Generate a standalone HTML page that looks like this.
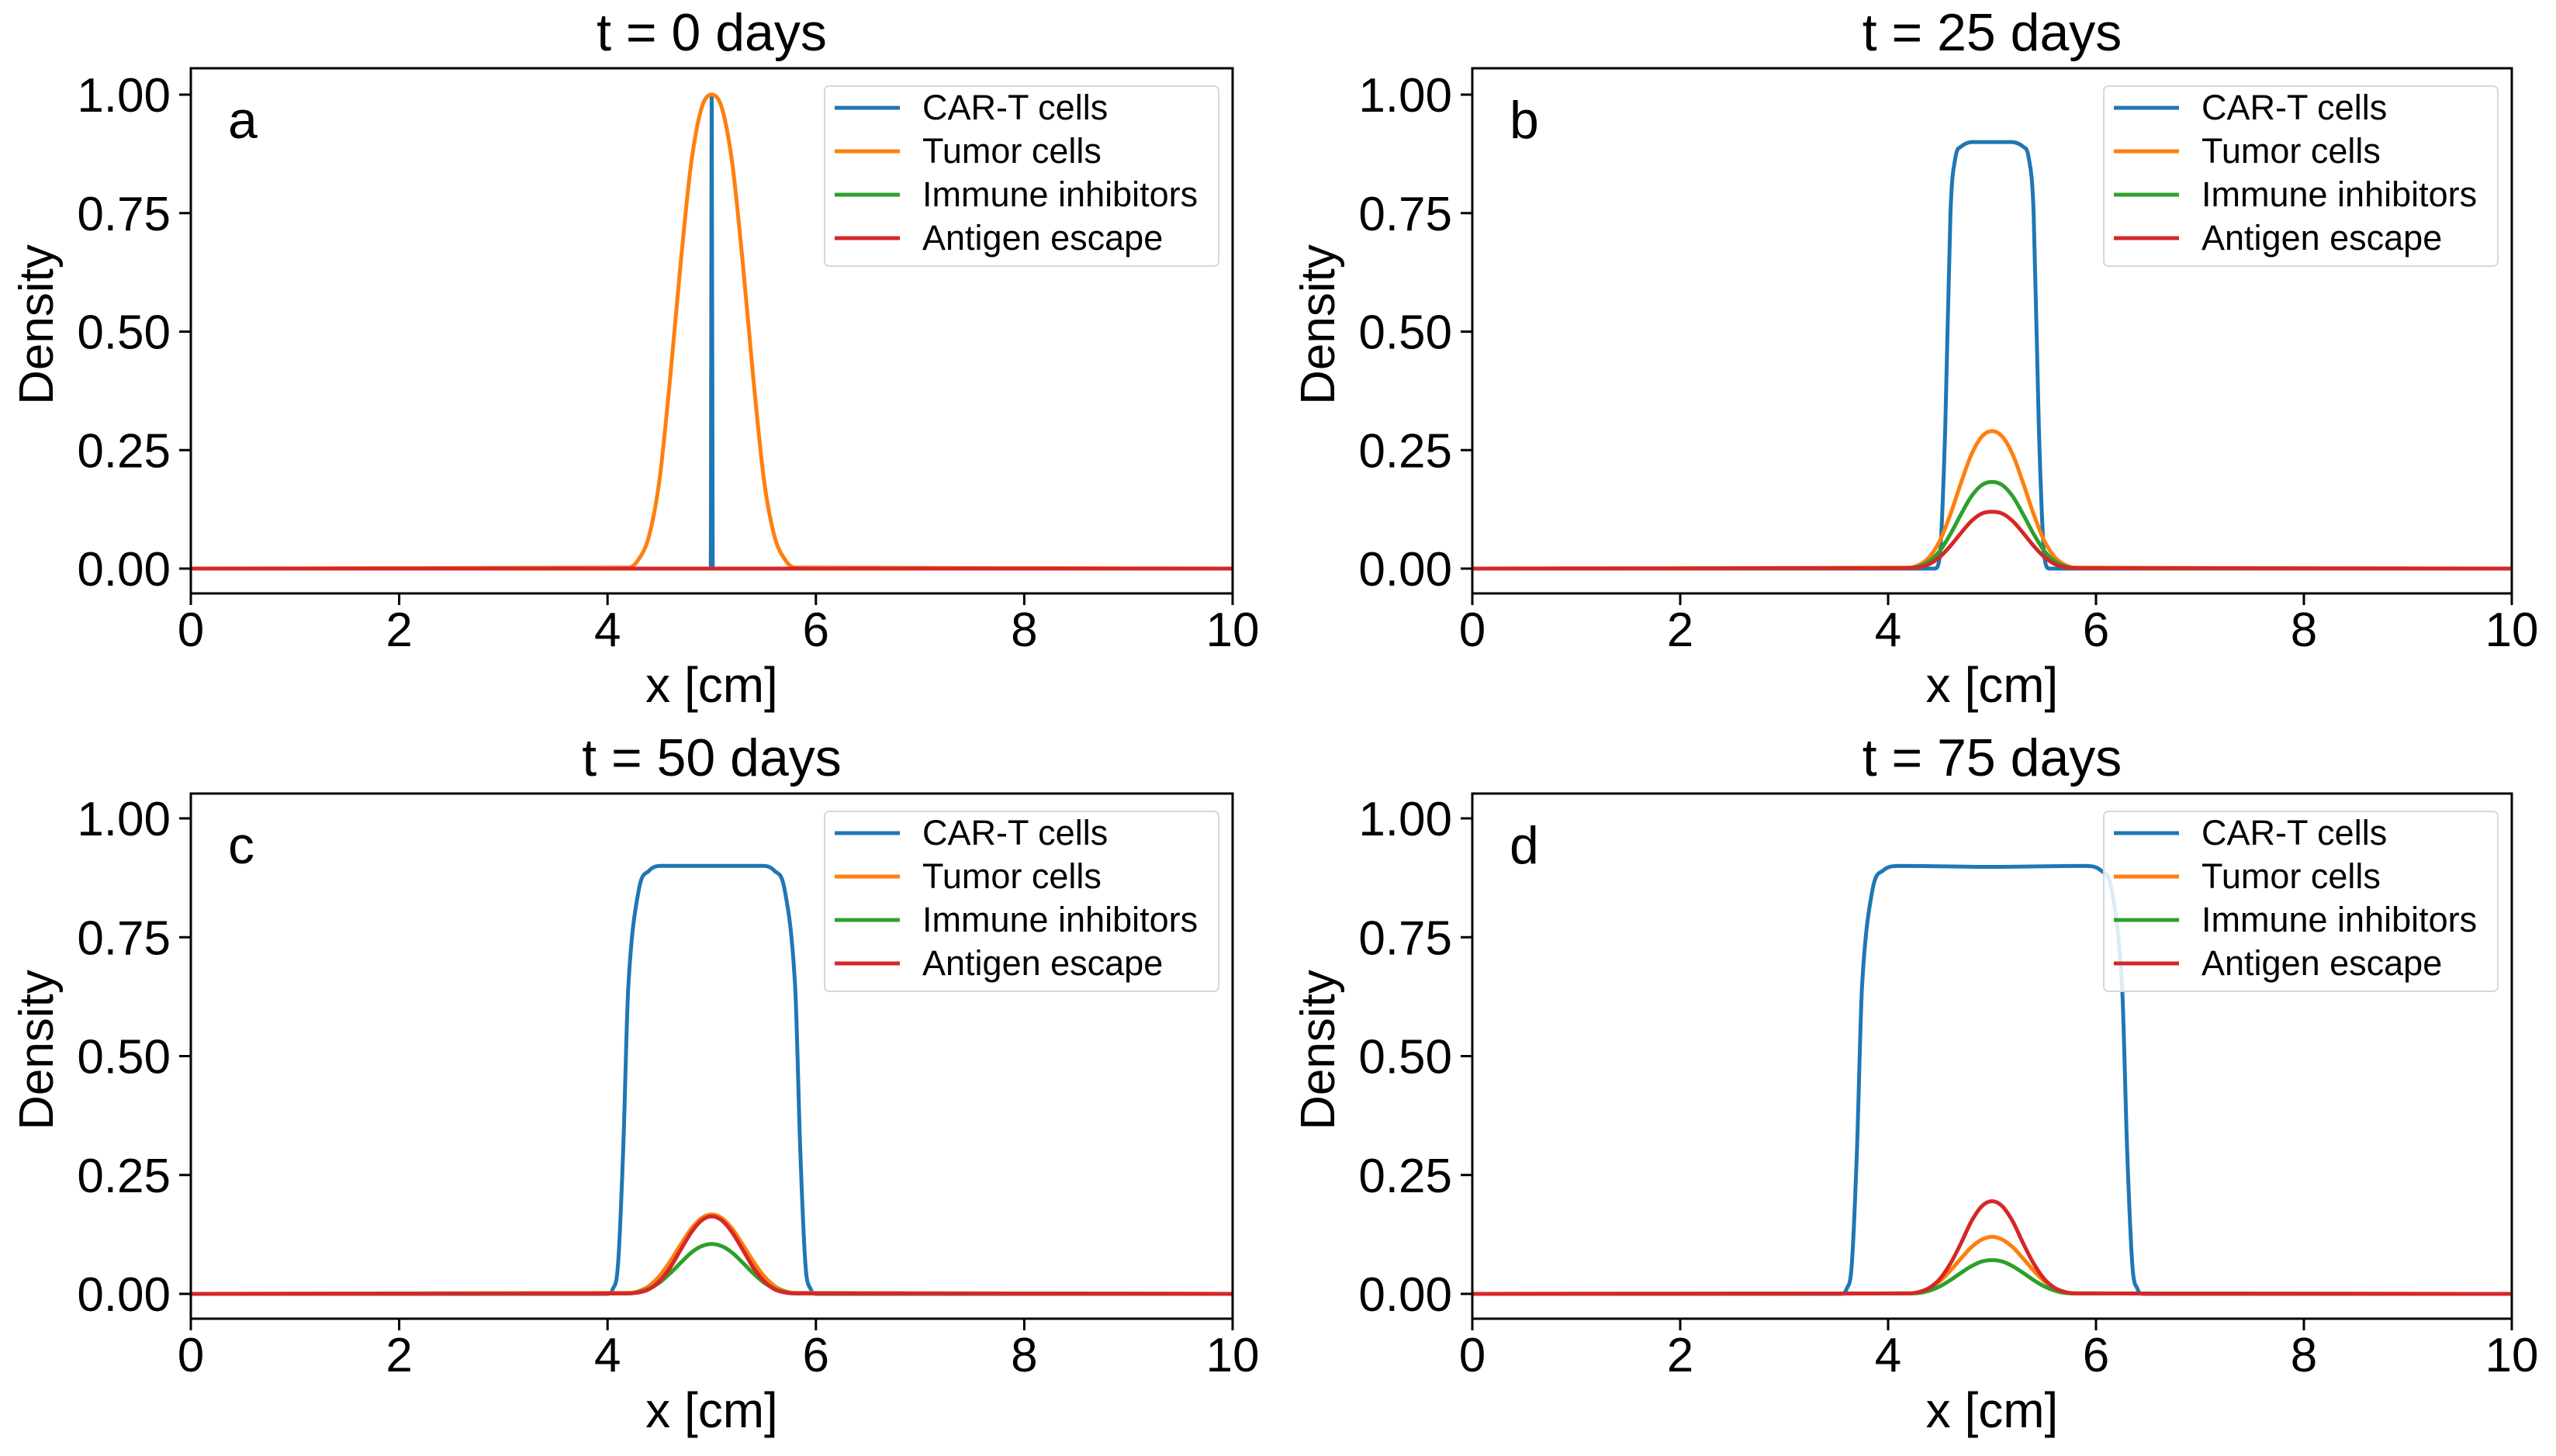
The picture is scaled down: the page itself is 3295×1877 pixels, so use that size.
<!DOCTYPE html>
<html><head><meta charset="utf-8"><style>
html,body{margin:0;padding:0;background:#fff;}
svg{display:block;}
text{font-family:"Liberation Sans",sans-serif;fill:#000;}
</style></head><body>
<svg id="fig" width="3295" height="1877" viewBox="0 0 3295 1877" xmlns="http://www.w3.org/2000/svg"></svg>
<script>
// ---------- data ----------
const panelTitles = ["t = 0 days", "t = 25 days", "t = 50 days", "t = 75 days"];
const panelLetters = ["a", "b", "c", "d"];
const seriesNames = ["CAR-T cells", "Tumor cells", "Immune inhibitors", "Antigen escape"];
const xTicks = [0, 2, 4, 6, 8, 10];
const yTicks = [0, 0.25, 0.5, 0.75, 1.0];
const yTickLabels = ["0.00", "0.25", "0.50", "0.75", "1.00"];
const bumpX = [0, 4.2, 4.3, 4.4, 4.5, 4.6, 4.7, 4.8, 4.9, 5.0, 5.1, 5.2, 5.3, 5.4, 5.5, 5.6, 5.7, 5.8, 10];

// panel a (t=0)
const aCarX = [0, 4.99, 5.0, 5.01, 10];
const aCarY = [0, 0, 1.0, 0, 0];
const aTumorY = [0, 0.002, 0.02, 0.07, 0.19, 0.4, 0.64, 0.85, 0.97, 1.0, 0.97, 0.85, 0.64, 0.4, 0.19, 0.07, 0.02, 0.002, 0];
const aInhibY = [0, 0, 0, 0, 0, 0, 0, 0, 0, 0, 0, 0, 0, 0, 0, 0, 0, 0, 0];
const aEscapeY = [0, 0, 0, 0, 0, 0, 0, 0, 0, 0, 0, 0, 0, 0, 0, 0, 0, 0, 0];

// panel b (t=25)
const bCarX = [0, 4.45, 4.5, 4.55, 4.6, 4.65, 4.7, 4.8, 5.0, 5.2, 5.3, 5.35, 5.4, 5.45, 5.5, 5.55, 10];
const bCarY = [0, 0, 0.03, 0.3, 0.75, 0.87, 0.89, 0.9, 0.9, 0.9, 0.89, 0.87, 0.75, 0.3, 0.03, 0, 0];
const bTumorY = [0, 0.002, 0.008, 0.025, 0.06, 0.115, 0.18, 0.24, 0.278, 0.29, 0.278, 0.24, 0.18, 0.115, 0.06, 0.025, 0.008, 0.002, 0];
const bInhibY = [0, 0.001, 0.005, 0.016, 0.038, 0.073, 0.114, 0.152, 0.176, 0.183, 0.176, 0.152, 0.114, 0.073, 0.038, 0.016, 0.005, 0.001, 0];
const bEscapeY = [0, 0.001, 0.003, 0.01, 0.025, 0.048, 0.075, 0.1, 0.116, 0.12, 0.116, 0.1, 0.075, 0.048, 0.025, 0.01, 0.003, 0.001, 0];

// panel c (t=50)
const cCarX = [0, 4.0, 4.05, 4.1, 4.15, 4.2, 4.3, 4.4, 4.5, 5.0, 5.5, 5.6, 5.7, 5.8, 5.85, 5.9, 5.95, 6.0, 10];
const cCarY = [0, 0, 0.01, 0.06, 0.3, 0.65, 0.85, 0.89, 0.9, 0.9, 0.9, 0.89, 0.85, 0.65, 0.3, 0.06, 0.01, 0, 0];
const cTumorY = [0, 0.002, 0.006, 0.017, 0.038, 0.068, 0.103, 0.136, 0.159, 0.167, 0.159, 0.136, 0.103, 0.068, 0.038, 0.017, 0.006, 0.002, 0];
const cInhibY = [0, 0.001, 0.004, 0.011, 0.024, 0.043, 0.065, 0.086, 0.1, 0.105, 0.1, 0.086, 0.065, 0.043, 0.024, 0.011, 0.004, 0.001, 0];
const cEscapeY = [0, 0.001, 0.003, 0.01, 0.027, 0.055, 0.092, 0.128, 0.154, 0.163, 0.154, 0.128, 0.092, 0.055, 0.027, 0.01, 0.003, 0.001, 0];

// panel d (t=75)
const dCarX = [0, 3.55, 3.6, 3.65, 3.7, 3.75, 3.85, 3.95, 4.1, 5.0, 5.9, 6.05, 6.15, 6.25, 6.3, 6.35, 6.4, 6.45, 10];
const dCarY = [0, 0, 0.01, 0.06, 0.3, 0.65, 0.85, 0.89, 0.9, 0.898, 0.9, 0.89, 0.85, 0.65, 0.3, 0.06, 0.01, 0, 0];
const dTumorY = [0, 0.001, 0.004, 0.012, 0.027, 0.049, 0.074, 0.098, 0.114, 0.12, 0.114, 0.098, 0.074, 0.049, 0.027, 0.012, 0.004, 0.001, 0];
const dInhibY = [0, 0.001, 0.002, 0.007, 0.016, 0.029, 0.044, 0.058, 0.068, 0.071, 0.068, 0.058, 0.044, 0.029, 0.016, 0.007, 0.002, 0.001, 0];
const dEscapeY = [0, 0.001, 0.004, 0.013, 0.032, 0.064, 0.106, 0.152, 0.184, 0.195, 0.184, 0.152, 0.106, 0.064, 0.032, 0.013, 0.004, 0.001, 0];

// ---------- layout ----------
const colors = ["#1f77b4", "#ff7f0e", "#2ca02c", "#d62728"];
const NS = "http://www.w3.org/2000/svg";
const svg = document.getElementById("fig");
const layouts = [
  {x0: 246, x1: 1589, yZero: 733, yOne: 122, top: 88, bottom: 765, titleY: 65, xlabY: 905},
  {x0: 1898, x1: 3238, yZero: 733, yOne: 122, top: 88, bottom: 765, titleY: 65, xlabY: 905},
  {x0: 246, x1: 1589, yZero: 1668, yOne: 1055, top: 1023, bottom: 1700, titleY: 1000, xlabY: 1840},
  {x0: 1898, x1: 3238, yZero: 1668, yOne: 1055, top: 1023, bottom: 1700, titleY: 1000, xlabY: 1840}
];
const panelSeries = [
  [[aCarX, aCarY], [bumpX, aTumorY], [bumpX, aInhibY], [bumpX, aEscapeY]],
  [[bCarX, bCarY], [bumpX, bTumorY], [bumpX, bInhibY], [bumpX, bEscapeY]],
  [[cCarX, cCarY], [bumpX, cTumorY], [bumpX, cInhibY], [bumpX, cEscapeY]],
  [[dCarX, dCarY], [bumpX, dTumorY], [bumpX, dInhibY], [bumpX, dEscapeY]]
];

function mk(tag, attrs, parent) {
  const e = document.createElementNS(NS, tag);
  for (const k in attrs) e.setAttribute(k, attrs[k]);
  (parent || svg).appendChild(e);
  return e;
}
// monotone-ish smooth path (Catmull-Rom with clamped tangents)
function smoothPath(P) {
  let d = "M" + P[0][0].toFixed(1) + "," + P[0][1].toFixed(1);
  for (let i = 0; i < P.length - 1; i++) {
    const p0 = P[Math.max(0, i - 1)], p1 = P[i], p2 = P[i + 1], p3 = P[Math.min(P.length - 1, i + 2)];
    const dx = p2[0] - p1[0];
    let m1 = (p2[1] - p0[1]) / ((p2[0] - p0[0]) || 1);
    let m2 = (p3[1] - p1[1]) / ((p3[0] - p1[0]) || 1);
    const s = (p2[1] - p1[1]) / (dx || 1);
    if (s === 0 || m1 * s <= 0) m1 = m1 * s <= 0 ? 0 : m1;
    if (s === 0 || m2 * s <= 0) m2 = m2 * s <= 0 ? 0 : m2;
    if (Math.abs(m1) > 3 * Math.abs(s)) m1 = 3 * s;
    if (Math.abs(m2) > 3 * Math.abs(s)) m2 = 3 * s;
    const c1 = [p1[0] + dx / 3, p1[1] + m1 * dx / 3];
    const c2 = [p2[0] - dx / 3, p2[1] - m2 * dx / 3];
    d += " C" + c1[0].toFixed(1) + "," + c1[1].toFixed(1) + " " + c2[0].toFixed(1) + "," + c2[1].toFixed(1) + " " + p2[0].toFixed(1) + "," + p2[1].toFixed(1);
  }
  return d;
}

layouts.forEach((L, p) => {
  const xs = v => L.x0 + (L.x1 - L.x0) * v / 10;
  const ys = v => L.yZero - (L.yZero - L.yOne) * v;
  const g = mk("g", {});
  
  

  const title = mk("text", {x: (L.x0 + L.x1) / 2, y: L.titleY, "font-size": 68, "text-anchor": "middle"}, g);
  title.textContent = panelTitles[p];
  
  

  panelSeries[p].forEach((s, i) => {
    const pts = s[0].map((xv, k) => [xs(xv), ys(s[1][k])]);
    const pl = mk("path", {d: smoothPath(pts), fill: "none", stroke: colors[i], "stroke-width": 5, "stroke-linejoin": "round"}, g);
    
    
  });

  const fr = mk("rect", {x: L.x0, y: L.top, width: L.x1 - L.x0, height: L.bottom - L.top, fill: "none", stroke: "#000", "stroke-width": 3}, g);
  
  

  xTicks.forEach(t => {
    const X = xs(t);
    mk("line", {x1: X, x2: X, y1: L.bottom, y2: L.bottom + 15, stroke: "#000", "stroke-width": 3}, g);
    const tl = mk("text", {x: X, y: L.bottom + 68, "font-size": 62, "text-anchor": "middle"}, g);
    tl.textContent = String(t);
    
    
  });
  yTicks.forEach((t, k) => {
    const Y = ys(t);
    mk("line", {x1: L.x0 - 15, x2: L.x0, y1: Y, y2: Y, stroke: "#000", "stroke-width": 3}, g);
    const tl = mk("text", {x: L.x0 - 26, y: Y + 22, "font-size": 62, "text-anchor": "end"}, g);
    tl.textContent = yTickLabels[k];
    
    
  });

  const xl = mk("text", {x: (L.x0 + L.x1) / 2, y: L.xlabY, "font-size": 64, "text-anchor": "middle"}, g);
  xl.textContent = "x [cm]";
  
  

  const cy = (L.top + L.bottom) / 2 - 8;
  const yl = mk("text", {x: 0, y: 0, "font-size": 62, "text-anchor": "middle", "font-family": "DejaVu Sans, sans-serif", transform: `translate(${L.x0 - 178},${cy}) rotate(-90)`}, g);
  yl.textContent = "Density";
  
  

  const lt = mk("text", {x: L.x0 + 48, y: L.top + 90, "font-size": 68}, g);
  lt.textContent = panelLetters[p];
  
  

  const lx = L.x1 - 526, ly = L.top + 23;
  const lg = mk("g", {}, g);
  
  
  mk("rect", {x: lx, y: ly, width: 508, height: 232, rx: 6, fill: "#fff", "fill-opacity": 0.85, stroke: "#d8d8d8", "stroke-width": 2}, lg);
  seriesNames.forEach((n, i) => {
    const yy = ly + 28 + i * 56;
    const ln = mk("line", {x1: lx + 13, x2: lx + 97, y1: yy, y2: yy, stroke: colors[i], "stroke-width": 5}, lg);
    
    
    const tx = mk("text", {x: lx + 126, y: yy + 15, "font-size": 45}, lg);
    tx.textContent = n;
    
    
  });
});
</script>
</body></html>
